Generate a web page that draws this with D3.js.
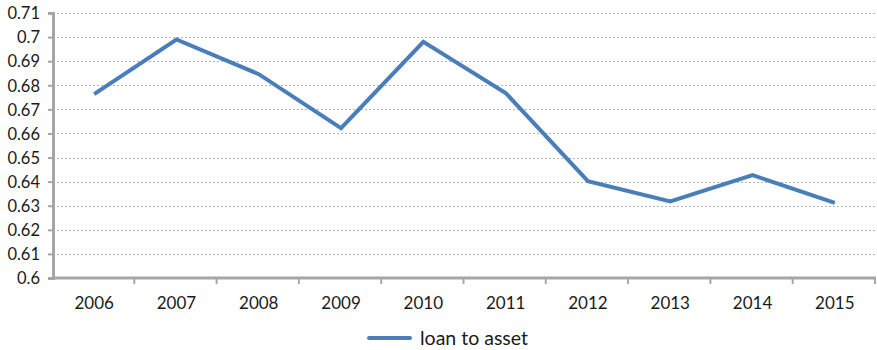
<!DOCTYPE html>
<html>
<head>
<meta charset="utf-8">
<script src="https://cdn.jsdelivr.net/npm/d3@7"></script>
<style>
  html, body { margin: 0; padding: 0; background: #fff; }
  svg text { font-family: Lato, "Open Sans", sans-serif; fill: #1a1a1a; }
</style>
</head>
<body>
<svg id="chart" width="877" height="350"></svg>
<script>
// Loan-to-asset ratio by year
const years = ["2006", "2007", "2008", "2009", "2010", "2011", "2012", "2013", "2014", "2015"];
const loanToAsset = [0.6763, 0.6990, 0.6846, 0.6622, 0.6980, 0.6768, 0.6402, 0.6318, 0.6427, 0.6312];
const yTicks = [0.6, 0.61, 0.62, 0.63, 0.64, 0.65, 0.66, 0.67, 0.68, 0.69, 0.7, 0.71];
const seriesName = "loan to asset";

const svg = d3.select("#chart");
const margin = { left: 53, right: 1, top: 13, bottom: 72 };
const W = 877, H = 350;

const x = d3.scaleBand().domain(years).range([margin.left, W - margin.right]);
const y = d3.scaleLinear().domain([0.6, 0.71]).range([H - margin.bottom, margin.top]);

const axisColor = "#a6a6a6";
const lineColor = "#4a7ebb";

// dotted horizontal gridlines
svg.append("g")
  .selectAll("line")
  .data(yTicks.slice(1))
  .join("line")
  .attr("x1", margin.left)
  .attr("x2", W - margin.right)
  .attr("y1", d => Math.round(y(d)) + 0.5)
  .attr("y2", d => Math.round(y(d)) + 0.5)
  .attr("stroke", "#b3b3b3")
  .attr("stroke-width", 1)
  .attr("stroke-dasharray", "2,2");

// y axis
const yAxis = svg.append("g")
  .attr("transform", `translate(${margin.left},0)`)
  .call(d3.axisLeft(y).tickValues(yTicks).tickFormat(d => d3.format("")(+d.toFixed(2))).tickSize(5).tickPadding(8));
yAxis.select(".domain").attr("stroke", axisColor).attr("stroke-width", 3);
yAxis.selectAll(".tick line").attr("stroke", axisColor).attr("stroke-width", 2);
yAxis.selectAll(".tick text").attr("font-size", 16.5).attr("dy", "0.35em");

// x axis with ticks on band boundaries
const xAxis = svg.append("g")
  .attr("transform", `translate(0,${H - margin.bottom})`);
xAxis.append("line")
  .attr("x1", margin.left).attr("x2", W - margin.right)
  .attr("stroke", axisColor).attr("stroke-width", 3);
const boundaries = years.map(d => x(d)).concat([x(years[years.length - 1]) + x.bandwidth()]);
xAxis.selectAll(".xt")
  .data(boundaries.slice(1))
  .join("line")
  .attr("class", "xt")
  .attr("x1", d => d - 1).attr("x2", d => d - 1)
  .attr("y1", 0).attr("y2", 6)
  .attr("stroke", axisColor).attr("stroke-width", 2);
xAxis.selectAll("text")
  .data(years)
  .join("text")
  .attr("x", d => x(d) + x.bandwidth() / 2)
  .attr("y", 31)
  .attr("text-anchor", "middle")
  .attr("font-size", 17)
  .text(d => d);

// series line
const line = d3.line()
  .x((d, i) => x(years[i]) + x.bandwidth() / 2)
  .y(d => y(d));
svg.append("path")
  .datum(loanToAsset)
  .attr("d", line)
  .attr("fill", "none")
  .attr("stroke", lineColor)
  .attr("stroke-width", 4)
  .attr("stroke-linejoin", "miter");

// legend
const legend = svg.append("g").attr("transform", "translate(369,338)");
legend.append("line")
  .attr("x1", 0).attr("x2", 41)
  .attr("stroke", lineColor).attr("stroke-width", 4).attr("stroke-linecap", "round");
legend.append("text")
  .attr("x", 51).attr("y", 0).attr("dy", "0.35em")
  .attr("font-size", 19.5)
  .text(seriesName);
</script>
</body>
</html>
